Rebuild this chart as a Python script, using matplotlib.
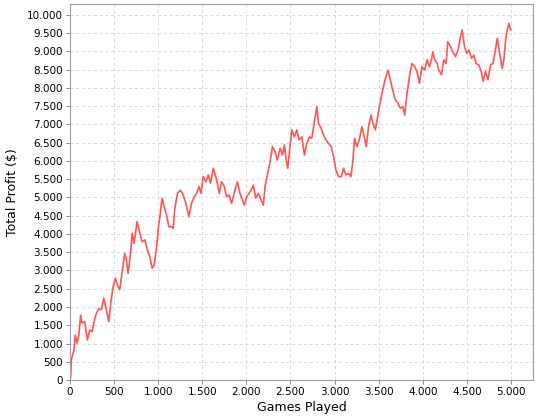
import matplotlib
matplotlib.use("Agg")
import matplotlib.pyplot as plt
from matplotlib.ticker import MultipleLocator, FuncFormatter

# Cumulative profit (games played, total profit in $)
games = [0, 8, 15, 45, 60, 80, 99, 121, 136, 167, 197, 224, 250, 273, 299, 326,
         356, 383, 413, 440, 462, 489, 515, 538, 564, 594, 621, 640, 659, 685,
         705, 727, 761, 792, 818, 848, 879, 905, 932, 955, 981, 1000, 1019, 1045,
         1068, 1095, 1121, 1151, 1170, 1189, 1219, 1253, 1284, 1314, 1349, 1378,
         1409, 1435, 1463, 1485, 1511, 1542, 1568, 1594, 1625, 1663, 1693, 1719,
         1750, 1776, 1803, 1833, 1871, 1898, 1928, 1955, 1977, 2004, 2030, 2053,
         2080, 2106, 2136, 2167, 2193, 2212, 2242, 2269, 2295, 2326, 2352, 2383,
         2409, 2432, 2451, 2469, 2497, 2515, 2545, 2572, 2599, 2628, 2659, 2685,
         2716, 2742, 2769, 2799, 2818, 2849, 2875, 2901, 2932, 2962, 2989, 3015,
         3045, 3076, 3102, 3128, 3159, 3185, 3205, 3227, 3253, 3280, 3310, 3337,
         3360, 3386, 3413, 3435, 3462, 3489, 3508, 3538, 3568, 3606, 3633, 3659,
         3690, 3720, 3746, 3773, 3795, 3822, 3849, 3878, 3909, 3935, 3963, 3992,
         4023, 4049, 4076, 4099, 4114, 4136, 4163, 4182, 4212, 4239, 4265, 4284,
         4315, 4341, 4371, 4401, 4428, 4447, 4474, 4497, 4523, 4553, 4580, 4606,
         4636, 4663, 4685, 4712, 4739, 4769, 4795, 4818, 4845, 4872, 4901, 4920,
         4940, 4958, 4977, 4997]
profit = [0, 90, 550, 820, 1230, 1010, 1190, 1780, 1560, 1600, 1100, 1370, 1320,
          1600, 1830, 1960, 1920, 2240, 1920, 1600, 2100, 2560, 2790, 2600, 2470,
          3010, 3470, 3290, 2920, 3420, 4020, 3740, 4340, 4020, 3790, 3840, 3560,
          3380, 3060, 3150, 3610, 4110, 4470, 4980, 4750, 4520, 4200, 4200, 4150,
          4700, 5110, 5200, 5070, 4840, 4470, 4840, 5020, 5110, 5300, 5110, 5570,
          5430, 5620, 5390, 5800, 5480, 5110, 5430, 5300, 5020, 5070, 4840, 5200,
          5430, 5110, 4930, 4790, 5020, 5110, 5200, 5340, 4980, 5110, 4930, 4790,
          5300, 5660, 5980, 6390, 6250, 6030, 6350, 6160, 6440, 6030, 5800, 6440,
          6850, 6660, 6850, 6580, 6660, 6160, 6480, 6660, 6620, 7030, 7490, 7030,
          6890, 6710, 6580, 6480, 6390, 6120, 5750, 5570, 5570, 5800, 5620, 5660,
          5570, 5940, 6620, 6390, 6580, 6940, 6660, 6390, 6940, 7260, 7030, 6850,
          7210, 7490, 7850, 8180, 8490, 8220, 7950, 7670, 7580, 7440, 7490, 7260,
          7850, 8310, 8670, 8580, 8450, 8130, 8580, 8490, 8770, 8580, 8770, 8990,
          8770, 8670, 8490, 8360, 8770, 8670, 9270, 9130, 8990, 8860, 9040, 9400,
          9590, 9130, 8950, 9040, 8810, 8900, 8670, 8630, 8450, 8180, 8450, 8220,
          8630, 8670, 8950, 9360, 8950, 8530, 8770, 9320, 9590, 9770, 9590]

fig = plt.figure(figsize=(5.4, 4.2), dpi=100)
ax = fig.add_axes([0.1296, 0.0952, 0.8574, 0.8953])

ax.plot(games, profit, color="#ff5555", linewidth=1.2)

ax.set_xlim(0, 5250)
ax.set_ylim(0, 10300)
ax.xaxis.set_major_locator(MultipleLocator(500))
ax.yaxis.set_major_locator(MultipleLocator(500))
fmt = FuncFormatter(lambda v, p: f"{int(v):,}".replace(",", "."))
ax.xaxis.set_major_formatter(fmt)
ax.yaxis.set_major_formatter(fmt)

ax.grid(True, color="#d8d8d8", linestyle=(0, (3, 3)), linewidth=0.7)
for s in ax.spines.values():
    s.set_color("#a0a0a0")
    s.set_linewidth(0.8)
ax.tick_params(length=3, width=0.7, color="#909090", labelsize=7.5, pad=2)

ax.set_xlabel("Games Played", fontsize=9, labelpad=3)
ax.set_ylabel("Total Profit ($)", fontsize=9, labelpad=6)

fig.savefig("out.png", dpi=100)
